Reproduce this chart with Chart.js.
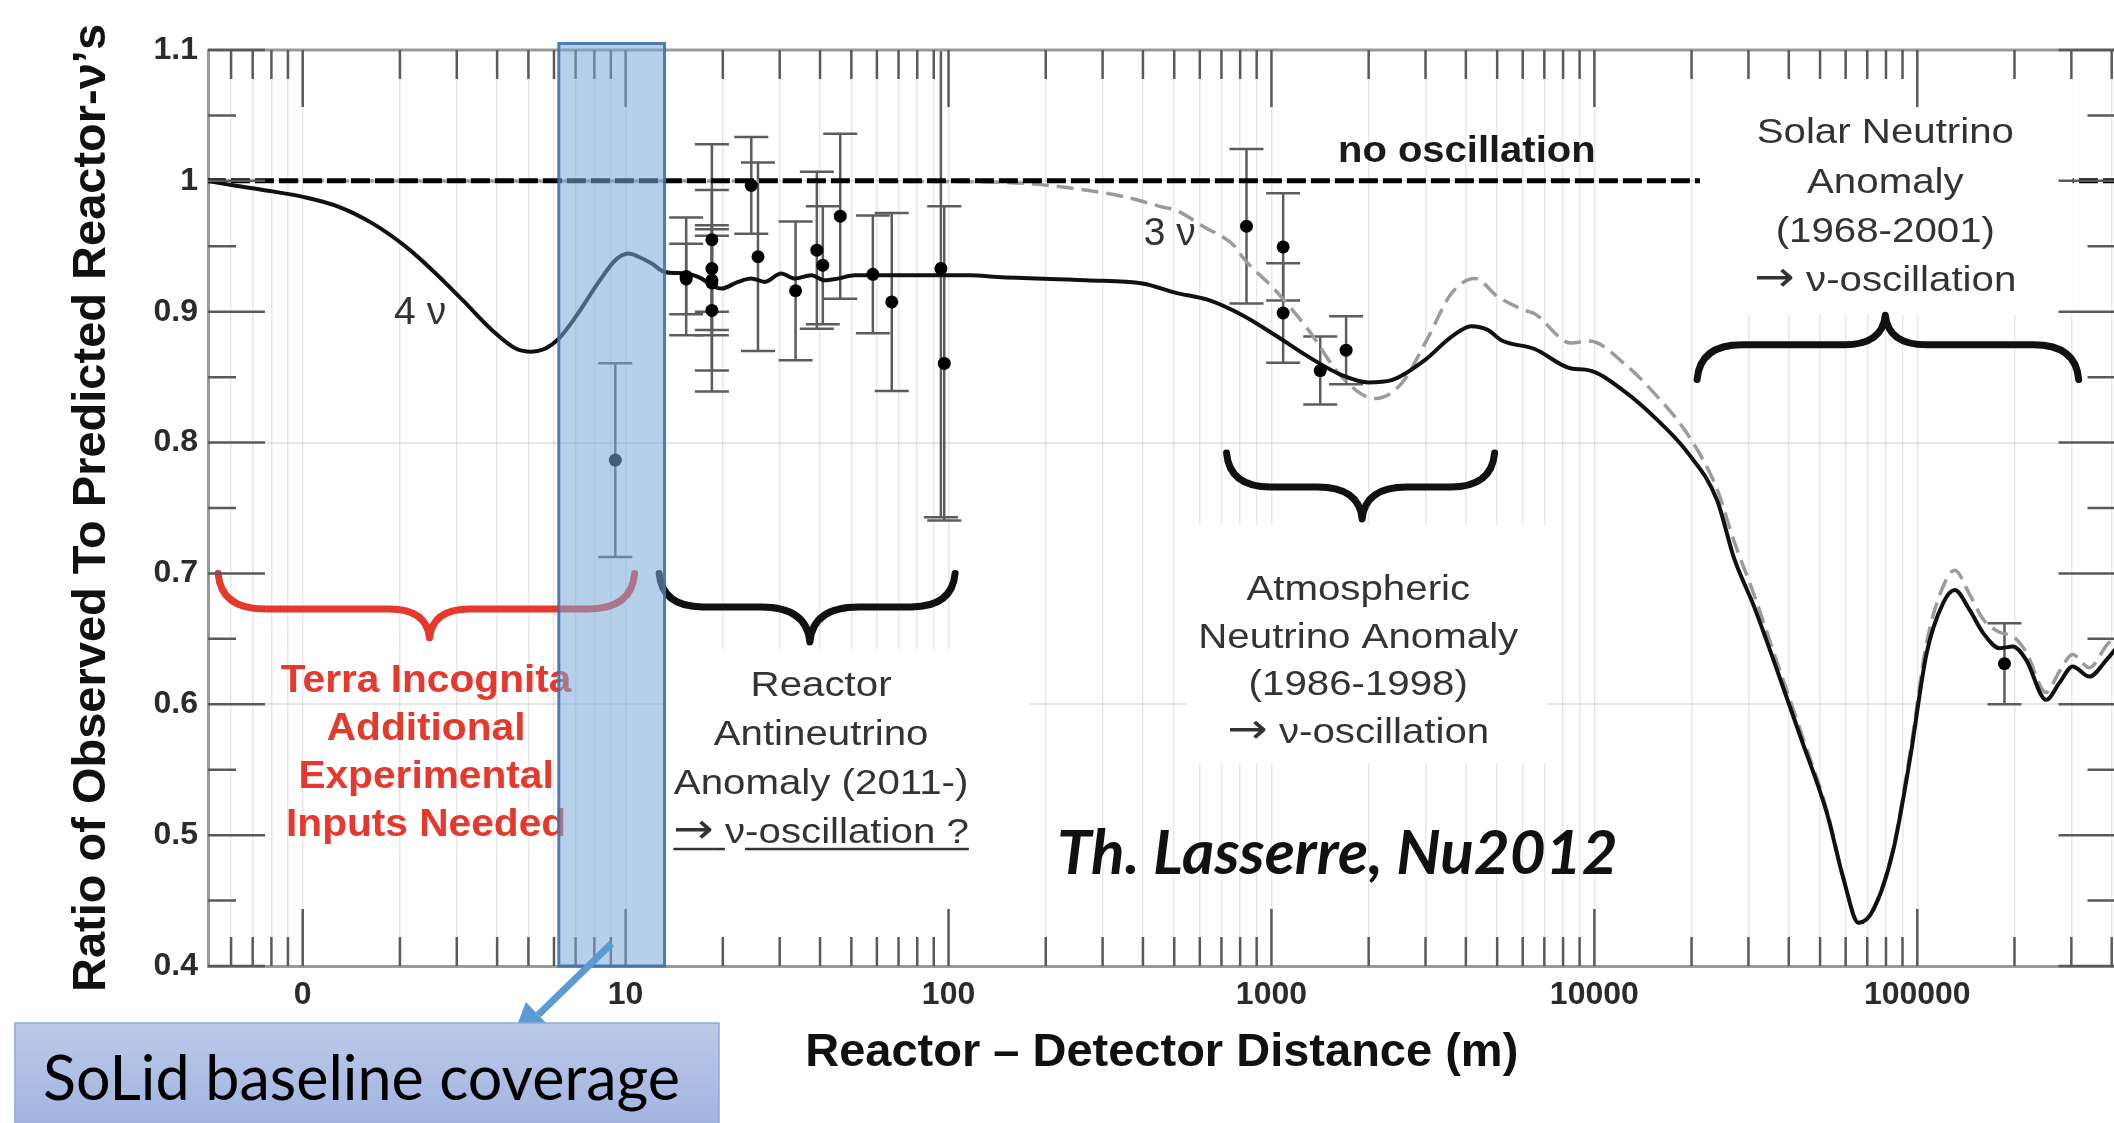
<!DOCTYPE html>
<html><head><meta charset="utf-8">
<style>
html,body{margin:0;padding:0;overflow:hidden;background:#fff;}
canvas{display:block;}
</style>
<script src="https://cdn.jsdelivr.net/npm/chart.js@4.4.1/dist/chart.umd.min.js"></script>
</head><body>
<canvas id="c" width="2122" height="1123" style="width:2122px;height:1123px"></canvas>
<script>
// ---------------- data ----------------
const fourNuX = [0.505,0.608,0.771,1.01,1.30,1.65,2.09,2.52,3.13,3.86,4.6,5.1,5.6,6.21,7.0,8.26,9.29,10.2,11.0,12.05,13.2,15.3,17.2,18.5,19.8,22.3,24.5,27.0,30.3,33.4,37.6,41.3,45.4,51.2,57.5,73,117,142,267,399,506,640,813,1028,1303,1652,1995,2355,2985,3606,4159,4688,5152,6531,8472,9638,12500,15420,19450,23990,27040,31190,36810,43450,52480,59160,65770,73110,84330,94840,106900,120200,130600,145200,160000,179900,197700,217300,250600,275400,302700,341200,385500,420000];
const fourNuY = [1.0,0.9966,0.9927,0.9876,0.980,0.9673,0.9495,0.9317,0.9088,0.8859,0.8715,0.8695,0.8715,0.8795,0.896,0.9228,0.9393,0.9444,0.9418,0.9368,0.9304,0.9292,0.9253,0.920,0.9177,0.9228,0.9253,0.9228,0.9292,0.9253,0.9279,0.924,0.9253,0.9279,0.9279,0.9279,0.9279,0.9266,0.924,0.9215,0.9144,0.9088,0.8973,0.882,0.8655,0.8515,0.846,0.8477,0.863,0.8808,0.8889,0.8859,0.8782,0.8715,0.8566,0.8552,0.8384,0.8189,0.7923,0.756,0.712,0.675,0.626,0.5754,0.5169,0.466,0.433,0.443,0.489,0.5576,0.6391,0.6773,0.6874,0.6721,0.6544,0.6429,0.6441,0.634,0.6034,0.6162,0.6289,0.6212,0.634,0.645];

const threeNuX = [0.505,100,174,248,354,460,506,617,774,813,1028,1303,1652,2094,2529,3062,3606,4266,5035,6081,6531,8472,9638,12500,15420,19450,23990,27040,31190,36810,43450,52480,59160,65770,73110,84330,94840,106900,120200,130600,145200,160000,179900,197700,217300,250600,275400,302700,341200,385500,420000];
const threeNuY = [1.0,0.9995,0.998,0.994,0.9876,0.980,0.9775,0.965,0.9495,0.9418,0.9164,0.8859,0.850,0.8337,0.8452,0.8808,0.9139,0.9253,0.9113,0.9011,0.8985,0.876,0.8776,0.8594,0.837,0.8063,0.7644,0.725,0.684,0.632,0.58,0.519,0.467,0.433,0.444,0.491,0.562,0.647,0.69,0.7025,0.684,0.665,0.655,0.652,0.64,0.609,0.625,0.638,0.628,0.645,0.655];

const noOscX = [0.505, 420000];
const noOscY = [1, 1];

const obsX   = [15.4,15.4,18.5,18.5,18.5,18.5,18.5,24.5,25.7,33.6,39.1,40.8,46.2,58.3,66.7,94.7,97,9.29,837,1087,1087,1416,1703,186200];
const obsY   = [0.927,0.925,0.955,0.933,0.924,0.901,0.922,0.9966,0.942,0.916,0.947,0.9355,0.973,0.9286,0.9075,0.933,0.8605,0.7866,0.9653,0.9495,0.899,0.855,0.8706,0.631];
const obsErr = [0.045,0.027,0.073,0.033,0.069,0.062,0.036,0.037,0.072,0.053,0.060,0.045,0.063,0.045,0.068,0.19,0.12,0.074,0.059,0.041,0.038,0.026,0.026,0.031];

const xTickValues = [1,10,100,1000,10000,100000];
const xTickLabels = ['0','10','100','1000','10000','100000'];
const yTickValues = [0.4,0.5,0.6,0.7,0.8,0.9,1.0,1.1];
const yTickLabels = ['0.4','0.5','0.6','0.7','0.8','0.9','1','1.1'];
const yMinorValues = [0.45,0.55,0.65,0.75,0.85,0.95,1.05];
const yGridLines = [0.6,0.8,1.0];

// ---------------- decorations (annotation layout in data units) ----------------
const FONT = '"Liberation Sans", Arial, Helvetica, sans-serif';
const ARROW_FONT = '42px "DejaVu Sans", sans-serif';
const band = {x1:6.21, x2:13.2, yTop:1.105, yBot:0.4};
const whiteBoxes = [
  {x1:21230, x2:302700, y1:1.0775, y2:0.898},
  {x1:547,   x2:7161,   y1:0.737,  y2:0.5553},
  {x1:13.2,  x2:177.8,  y1:0.6416, y2:0.4202}
];
const braces = [
  {x1:0.547, x2:10.66,  xc:2.47,  yTip:0.700, yBody:0.6729, yPoint:0.6508, color:'#e5392d'},
  {x1:12.7,  x2:104.8,  xc:37.2,  yTip:0.700, yBody:0.6744, yPoint:0.6477, color:'#111'},
  {x1:726,   x2:4911,   xc:1909,  yTip:0.792, yBody:0.766,  yPoint:0.7416, color:'#111'},
  {x1:20800, x2:316200, xc:79620, yTip:0.8482,yBody:0.8747, yPoint:0.8973, color:'#111'}
];
const osc = [{t:'→', font:ARROW_FONT},{t:' ν-oscillation'}];
const notes = [
  {lines:['no oscillation'], x:4027, y:1.0141, font:'bold 37px '+FONT, color:'#1a1a1a', sx:1.08},
  {lines:['Solar Neutrino','Anomaly','(1968-2001)',osc], x:79620, y:1.0286, lh:49.3, font:'35px '+FONT, color:'#333', sx:1.15},
  {lines:['Atmospheric','Neutrino Anomaly','(1986-1998)',osc], x:1857, y:0.6798, lh:47.7, font:'35px '+FONT, color:'#333', sx:1.15},
  {lines:['Reactor','Antineutrino','Anomaly (2011-)',[{t:'→',u:true,font:ARROW_FONT},{t:' ',u:true},{t:'ν'},{t:'-oscillation ?',u:true}]], x:40.3, y:0.6065, lh:49, font:'35px '+FONT, color:'#333', sx:1.15},
  {lines:['Terra Incognita','Additional','Experimental','Inputs Needed'], x:2.41, y:0.6095, lh:48, font:'bold 38px '+FONT, color:'#e5392d', sx:1.07},
  {lines:['4 ν'], x:2.31, y:0.8905, font:'39px '+FONT, color:'#333', sx:1},
  {lines:['3 ν'], x:484, y:0.9508, font:'39px '+FONT, color:'#333', sx:1},
  {lines:['Th. Lasserre, Nu2012'], x:1600, y:0.470, font:'italic bold 62px Lato, "Open Sans", sans-serif', color:'#111', sx:1}
];
const arrow = {x1:9.05, y1:0.4172, x2:4.42, y2:0.3424};

// x grid / tick positions (every 1..9 x 10^k inside the axis range)
const X_MIN = 0.509, X_MAX = 411000;
const xGridValues = [];
for (let k = -1; k <= 5; k++) for (let m = 1; m <= 9; m++) {
  const v = +(m * Math.pow(10, k)).toPrecision(6);
  if (v >= X_MIN && v <= X_MAX) xGridValues.push(v);
}
const yGridValues = yTickValues.concat(yMinorValues).sort((a,b)=>a-b);
const near = (a,b) => Math.abs(a-b) <= 1e-6*Math.max(1,Math.abs(b));

function drawBrace(ctx, x1, x2, xc, yt, yb, yp, color){
  const r1 = Math.abs(yb-yt)*1.3, r2 = Math.abs(yp-yb)*1.4;
  ctx.save();
  ctx.strokeStyle = color; ctx.lineWidth = 7; ctx.lineCap='round'; ctx.lineJoin='round';
  ctx.beginPath();
  ctx.moveTo(x1, yt);
  ctx.quadraticCurveTo(x1+3, yb, x1+r1, yb);
  ctx.lineTo(xc-r2, yb);
  ctx.quadraticCurveTo(xc-3, yb, xc, yp);
  ctx.quadraticCurveTo(xc+3, yb, xc+r2, yb);
  ctx.lineTo(x2-r1, yb);
  ctx.quadraticCurveTo(x2-3, yb, x2, yt);
  ctx.stroke();
  ctx.restore();
}
function drawNote(ctx, L, cx, by){
  ctx.save();
  ctx.fillStyle = L.color; ctx.textBaseline = 'alphabetic'; ctx.textAlign = 'left';
  L.lines.forEach((line, i) => {
    const yy = by + i*(L.lh||0);
    const segs = Array.isArray(line) ? line : [{t:line}];
    const w = segs.map(s => { ctx.font = s.font || L.font; return ctx.measureText(s.t).width; });
    const total = w.reduce((p,c)=>p+c,0);
    ctx.save();
    ctx.translate(cx, yy); ctx.scale(L.sx||1, 1);
    let xx = -total/2;
    segs.forEach((s,j) => {
      ctx.font = s.font || L.font;
      ctx.fillText(s.t, xx, 0);
      if (s.u) ctx.fillRect(xx, 5, w[j], 2.5);
      xx += w[j];
    });
    ctx.restore();
  });
  ctx.restore();
}

const decor = {
  id: 'decor',
  beforeDatasetsDraw(chart){
    const {ctx, chartArea:a, scales:{x, y}} = chart;
    ctx.save();
    ctx.beginPath(); ctx.rect(a.left, a.top, a.right-a.left, a.bottom-a.top); ctx.clip();
    ctx.strokeStyle = '#5c5c5c'; ctx.lineWidth = 2.5;
    obsX.forEach((vx, i) => {
      const px = x.getPixelForValue(vx);
      const t = y.getPixelForValue(obsY[i]+obsErr[i]);
      const b = y.getPixelForValue(obsY[i]-obsErr[i]);
      ctx.beginPath();
      ctx.moveTo(px, t); ctx.lineTo(px, b);
      ctx.moveTo(px-17, t); ctx.lineTo(px+17, t);
      ctx.moveTo(px-17, b); ctx.lineTo(px+17, b);
      ctx.stroke();
    });
    ctx.restore();
  },
  afterDatasetsDraw(chart){
    const {ctx, chartArea:a, scales:{x, y}} = chart;
    const X = v => x.getPixelForValue(v), Y = v => y.getPixelForValue(v);
    ctx.save();
    // white label backgrounds
    ctx.fillStyle = '#fff';
    whiteBoxes.forEach(b => { const x1=X(b.x1), x2=X(b.x2), y1=Y(b.y1), y2=Y(b.y2); ctx.fillRect(x1, y1, x2-x1, y2-y1); });
    // braces and notes
    braces.forEach(b => drawBrace(ctx, X(b.x1), X(b.x2), X(b.xc), Y(b.yTip), Y(b.yBody), Y(b.yPoint), b.color));
    notes.forEach(n => drawNote(ctx, n, X(n.x), Y(n.y)));
    // top / right frame
    ctx.strokeStyle = '#9a9a9a'; ctx.lineWidth = 3;
    ctx.beginPath(); ctx.moveTo(a.left, a.top); ctx.lineTo(a.right, a.top); ctx.lineTo(a.right, a.bottom); ctx.stroke();
    // inward ticks on all four sides
    ctx.strokeStyle = '#5a5a5a'; ctx.lineWidth = 2.5;
    ctx.beginPath();
    xGridValues.forEach(v => {
      const len = xTickValues.some(t => near(v,t)) ? 57 : 29;
      const px = X(v);
      ctx.moveTo(px, a.bottom); ctx.lineTo(px, a.bottom-len);
      ctx.moveTo(px, a.top); ctx.lineTo(px, a.top+len);
    });
    yGridValues.forEach(v => {
      const len = yTickValues.some(t => near(v,t)) ? 57 : 28;
      const py = Y(v);
      ctx.moveTo(a.left, py); ctx.lineTo(a.left+len, py);
      ctx.moveTo(a.right, py); ctx.lineTo(a.right-len, py);
    });
    ctx.stroke();
    // SoLid coverage band
    const bx1 = X(band.x1), bx2 = X(band.x2), bt = Y(band.yTop), bb = Y(band.yBot);
    ctx.fillStyle = 'rgba(124,170,217,0.55)';
    ctx.fillRect(bx1, bt, bx2-bx1, bb-bt);
    ctx.strokeStyle = 'rgba(65,110,175,0.9)'; ctx.lineWidth = 3;
    ctx.strokeRect(bx1, bt, bx2-bx1, bb-bt);
    ctx.restore();
  },
  afterDraw(chart){
    const {ctx, scales:{x, y}} = chart;
    const X = v => x.getPixelForValue(v), Y = v => y.getPixelForValue(v);
    ctx.save();
    // arrow
    const x1 = X(arrow.x1), y1 = Y(arrow.y1), x2 = X(arrow.x2), y2 = Y(arrow.y2);
    const ang = Math.atan2(y2-y1, x2-x1), hl = 38, hw = 18;
    const bxp = x2 - hl*Math.cos(ang), byp = y2 - hl*Math.sin(ang);
    ctx.strokeStyle = '#5b9bd5'; ctx.fillStyle = '#5b9bd5'; ctx.lineWidth = 7;
    ctx.beginPath(); ctx.moveTo(x1, y1); ctx.lineTo(bxp, byp); ctx.stroke();
    ctx.beginPath();
    ctx.moveTo(x2, y2);
    ctx.lineTo(bxp + hw*Math.sin(ang), byp - hw*Math.cos(ang));
    ctx.lineTo(bxp - hw*Math.sin(ang), byp + hw*Math.cos(ang));
    ctx.closePath(); ctx.fill();
    // SoLid label box
    const g = ctx.createLinearGradient(0, 1023, 0, 1123);
    g.addColorStop(0, '#bccaea'); g.addColorStop(1, '#a2b4e0');
    ctx.fillStyle = g; ctx.fillRect(15, 1023, 704, 110);
    ctx.strokeStyle = '#8ea8da'; ctx.lineWidth = 1.5; ctx.strokeRect(15, 1023, 704, 110);
    ctx.fillStyle = '#000'; ctx.font = '61px Lato, "Open Sans", sans-serif';
    ctx.textAlign = 'left'; ctx.textBaseline = 'alphabetic';
    ctx.fillText('SoLid baseline coverage', 43, 1100);
    ctx.restore();
  }
};

Chart.defaults.font.family = FONT;
new Chart(document.getElementById('c').getContext('2d'), {
  type: 'scatter',
  data: { datasets: [
    { label:'Reactor data', data: obsX.map((v,i)=>({x:v, y:obsY[i]})), showLine:false,
      pointRadius:6.5, pointHoverRadius:6.5, pointBackgroundColor:'#000', pointBorderWidth:0, order:0 },
    { label:'4 ν', data: fourNuX.map((v,i)=>({x:v, y:fourNuY[i]})), showLine:true, borderColor:'#111',
      borderWidth:4, pointRadius:0, cubicInterpolationMode:'monotone', order:1 },
    { label:'no oscillation', data: noOscX.map((v,i)=>({x:v, y:noOscY[i]})), showLine:true, borderColor:'#000',
      borderWidth:5, borderDash:[19,5], pointRadius:0, order:2 },
    { label:'3 ν', data: threeNuX.map((v,i)=>({x:v, y:threeNuY[i]})), showLine:true, borderColor:'#9b9b9b',
      borderWidth:3.5, borderDash:[17,8], pointRadius:0, cubicInterpolationMode:'monotone', order:3 }
  ]},
  options: {
    responsive:false, animation:false, devicePixelRatio:1,
    layout:{ padding:{ left:0, right:0, top:50, bottom:0 } },
    plugins:{ legend:{display:false}, tooltip:{enabled:false} },
    scales:{
      x:{ type:'logarithmic', position:'bottom', min:X_MIN, max:X_MAX,
        afterBuildTicks(s){ s.ticks = xGridValues.map(v => ({value:v})); },
        afterFit(s){ s.height = 157; },
        grid:{ drawTicks:false, color:'rgba(0,0,0,0.09)', lineWidth:1.5 },
        border:{ display:true, color:'#9a9a9a', width:3 },
        ticks:{ autoSkip:false, maxRotation:0, minRotation:0, padding:10, color:'#2b2b2b', font:{size:32, weight:'bold'},
          callback(v){ const k = xTickValues.findIndex(t => near(v,t)); return k >= 0 ? xTickLabels[k] : ''; } },
        title:{ display:true, text:'Reactor – Detector Distance (m)', color:'#111',
          font:{ size:47, weight:'bold' }, padding:{ top:0, bottom:42 } }
      },
      y:{ type:'linear', position:'left', min:0.4, max:1.1,
        afterBuildTicks(s){ s.ticks = yGridValues.map(v => ({value:v})); },
        afterFit(s){ s.width = 208; },
        grid:{ drawTicks:false, lineWidth:2,
          color(c){ const v = c.tick ? c.tick.value : NaN; return yGridLines.some(g => near(v,g)) ? 'rgba(0,0,0,0.09)' : 'rgba(0,0,0,0)'; } },
        border:{ display:true, color:'#9a9a9a', width:3 },
        ticks:{ autoSkip:false, padding:10, color:'#2b2b2b', font:{size:32, weight:'bold'},
          callback(v){ const k = yTickValues.findIndex(t => near(v,t)); return k >= 0 ? yTickLabels[k] : ''; } },
        title:{ display:true, text:'Ratio of Observed To Predicted Reactor-ν’s', color:'#111',
          font:{ size:47, weight:'bold' }, padding:{ top:64, bottom:0 } }
      }
    }
  },
  plugins:[decor]
});
</script>
</body></html>
